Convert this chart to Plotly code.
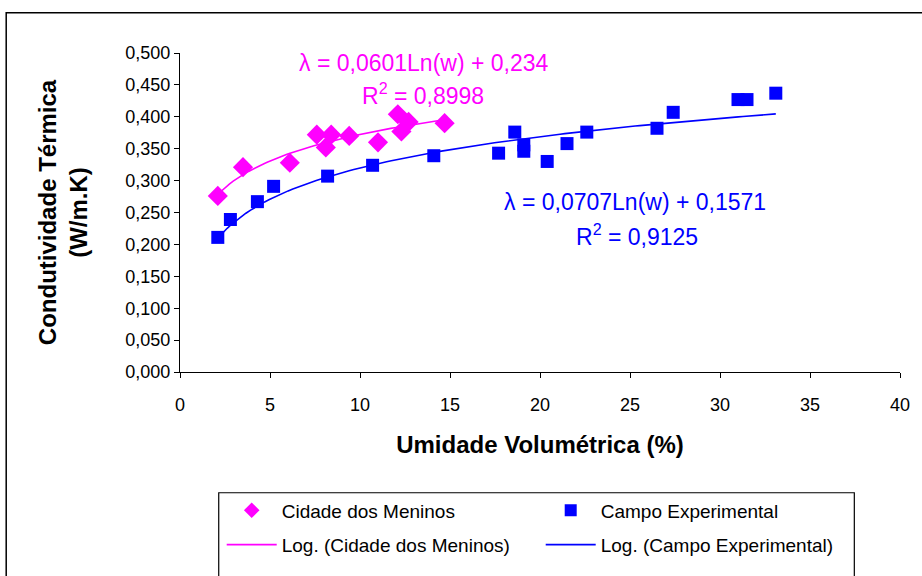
import numpy as np
import plotly.graph_objects as go

# ---- data ----
cidade_x = [2.1, 3.5, 6.1, 7.6, 8.4, 8.1, 9.4, 11.0, 12.1, 12.3, 12.7, 14.7]
cidade_y = [0.276, 0.321, 0.328, 0.372, 0.372, 0.352, 0.370, 0.360, 0.404, 0.377, 0.392, 0.390]

campo_x = [2.1, 2.8, 4.3, 5.2, 8.2, 10.7, 14.1, 17.7, 18.6, 19.1, 19.1, 20.4, 21.5, 22.6, 26.5, 27.4, 31.0, 31.5, 33.1]
campo_y = [0.211, 0.239, 0.267, 0.291, 0.307, 0.324, 0.339, 0.343, 0.376, 0.356, 0.346, 0.330, 0.358, 0.376, 0.382, 0.407, 0.427, 0.427, 0.437]

# trendline coefficients (as printed on the chart)
cidade_a, cidade_b = 0.0601, 0.234
campo_a, campo_b = 0.0707, 0.1571

x_ticks = [0, 5, 10, 15, 20, 25, 30, 35, 40]

MAG = "#FF00FF"
BLUE = "#0000FF"
FONT = "Liberation Sans, Arial, sans-serif"

fig = go.Figure()

fig.add_trace(go.Scatter(
    x=cidade_x, y=cidade_y, mode="markers", name="Cidade dos Meninos",
    marker=dict(symbol="diamond", size=15.5, color=MAG, line=dict(width=0)),
    legend="legend",
))
fig.add_trace(go.Scatter(
    x=campo_x, y=campo_y, mode="markers", name="Campo Experimental",
    marker=dict(symbol="square", size=13, color=BLUE, line=dict(width=0)),
    legend="legend",
))

xc = np.linspace(min(cidade_x), max(cidade_x), 60)
fig.add_trace(go.Scatter(
    x=xc, y=cidade_a * np.log(xc) + cidade_b, mode="lines",
    name="Log. (Cidade dos Meninos)", line=dict(color=MAG, width=1.6),
    legend="legend2",
))
xb = np.linspace(min(campo_x), max(campo_x), 120)
fig.add_trace(go.Scatter(
    x=xb, y=campo_a * np.log(xb) + campo_b, mode="lines",
    name="Log. (Campo Experimental)", line=dict(color=BLUE, width=1.6),
    legend="legend2",
))

W, H = 922, 576
L, R, T, B = 180, 17, 53, 198
pw, ph = W - L - R, H - T - B


def px(x):
    return (x - L) / pw


def py(y):
    return (H - B - y) / ph


ann_font = dict(family=FONT, size=23)
fig.add_annotation(x=13.57, y=0.4845, xref="x", yref="y", showarrow=False,
                   text="λ = 0,0601Ln(w) + 0,234", font=dict(ann_font, color=MAG))
fig.add_annotation(x=13.52, y=0.4365, xref="x", yref="y", showarrow=False,
                   text="R<sup>2</sup> = 0,8998", font=dict(ann_font, color=MAG))
fig.add_annotation(x=25.3, y=0.266, xref="x", yref="y", showarrow=False,
                   text="λ = 0,0707Ln(w) + 0,1571", font=dict(ann_font, color=BLUE))
fig.add_annotation(x=25.4, y=0.215, xref="x", yref="y", showarrow=False,
                   text="R<sup>2</sup> = 0,9125", font=dict(ann_font, color=BLUE))

shapes = [
    # outer chart frame
    dict(type="rect", xref="paper", yref="paper", x0=px(5), x1=px(930), y0=py(590), y1=py(12),
         line=dict(color="black", width=1.5), fillcolor="rgba(0,0,0,0)", layer="below"),
    # legend box
    dict(type="rect", xref="paper", yref="paper", x0=px(219), x1=px(859), y0=py(590), y1=py(501),
         line=dict(color="black", width=1.2), fillcolor="rgba(0,0,0,0)"),
]

legend_common = dict(
    orientation="h", xanchor="left", yanchor="middle",
    font=dict(family=FONT, size=19, color="black"),
    bgcolor="rgba(0,0,0,0)", borderwidth=0,
    entrywidthmode="pixels", entrywidth=254, itemwidth=50,
    traceorder="normal",
)

fig.update_layout(
    width=W, height=H,
    margin=dict(l=L, r=R, t=T, b=B, pad=0),
    paper_bgcolor="white", plot_bgcolor="white",
    separators=",.",
    font=dict(family=FONT, size=18, color="black"),
    showlegend=True,
    legend=dict(legend_common, x=px(222), y=py(519), itemsizing="constant"),
    legend2=dict(legend_common, x=px(222), y=py(554), itemsizing="trace"),
    shapes=shapes,
    xaxis=dict(
        range=[0, 40], tickvals=x_ticks, ticktext=[str(v) for v in x_ticks],
        showline=True, linecolor="black", linewidth=1.2,
        ticks="outside", ticklen=5, tickcolor="black",
        showgrid=False, zeroline=False,
        tickfont=dict(family=FONT, size=18), ticklabelstandoff=11,
        title=dict(text="<b>Umidade Volumétrica (%)</b>", font=dict(family=FONT, size=24), standoff=22),
    ),
    yaxis=dict(
        range=[0, 0.5], dtick=0.05, tick0=0, tickformat=".3f",
        showline=True, linecolor="black", linewidth=1.2,
        ticks="outside", ticklen=5, tickcolor="black",
        showgrid=False, zeroline=False,
        tickfont=dict(family=FONT, size=18),
        title=dict(text="<b>Condutividade Térmica<br>(W/m.K)</b>", font=dict(family=FONT, size=24), standoff=30),
    ),
)

fig.write_html("out.html")
